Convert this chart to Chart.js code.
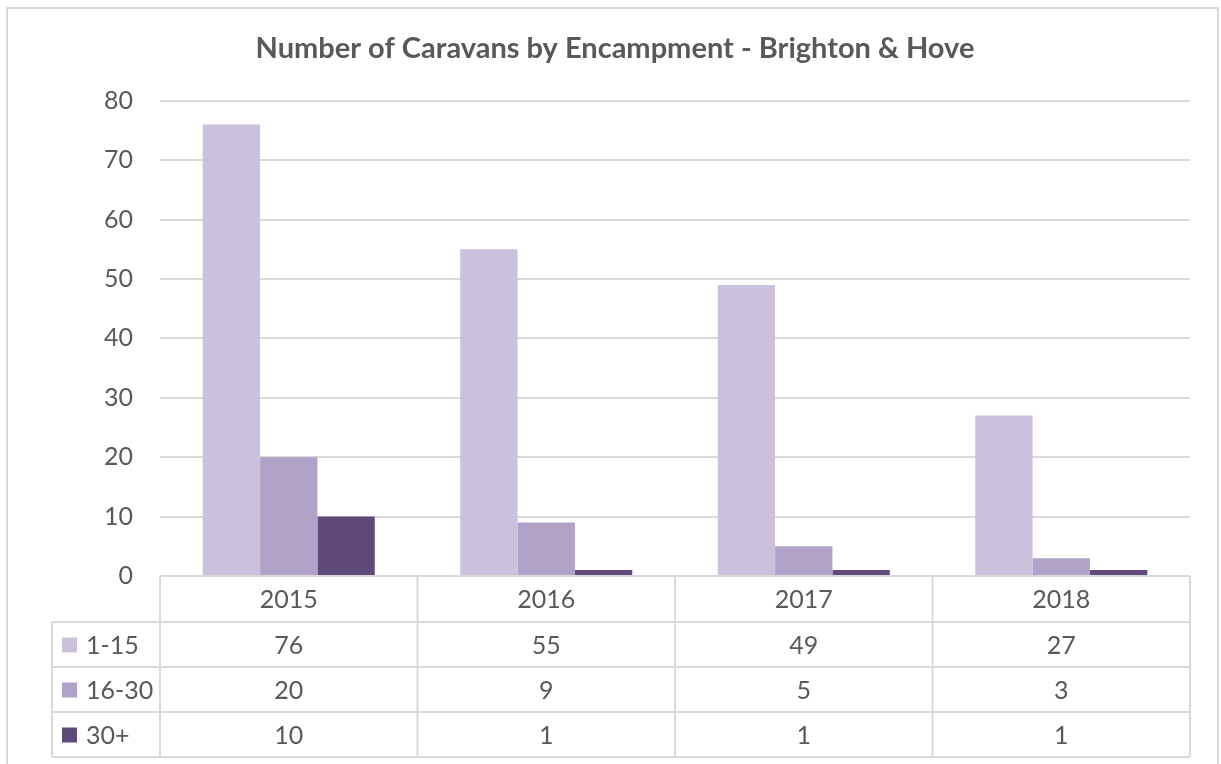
<!DOCTYPE html>
<html>
<head>
<meta charset="utf-8">
<script src="https://cdn.jsdelivr.net/npm/chart.js@4"></script>
<style>
  html, body { margin: 0; padding: 0; background: #fff; }
  #wrap { width: 1221px; height: 764px; }
</style>
</head>
<body>
<div id="wrap"><canvas id="chart" width="1221" height="764"></canvas></div>
<script>
// data
const years = ['2015', '2016', '2017', '2018'];
const seriesNames = ['1-15', '16-30', '30+'];
const caravans1to15 = [76, 55, 49, 27];
const caravans16to30 = [20, 9, 5, 3];
const caravans30plus = [10, 1, 1, 1];
const seriesColors = ['#ccc1dc', '#b1a2c8', '#604a7b'];

const textColor = '#595959';
const lineColor = '#d9d9d9';
const fontFamily = 'Lato, "Open Sans", sans-serif';

// border round the whole chart + data table under the plot
const tablePlugin = {
  id: 'dataTable',
  beforeDraw(chart) {
    const ctx = chart.ctx;
    ctx.save();
    ctx.strokeStyle = lineColor;
    ctx.lineWidth = 2;
    ctx.strokeRect(7, 8, 1211, 780);
    ctx.restore();
  },
  afterDraw(chart) {
    const ctx = chart.ctx;
    const area = chart.chartArea;
    const x = chart.scales.x;
    const colW = (area.right - area.left) / years.length;
    const headH = 46, rowH = 45;
    const legendLeft = 52;
    const top = area.bottom;
    const rowsTop = top + headH;
    const bottom = rowsTop + rowH * seriesNames.length;

    ctx.save();
    ctx.strokeStyle = lineColor;
    ctx.lineWidth = 2;
    ctx.beginPath();
    // horizontal lines
    ctx.moveTo(area.left, top); ctx.lineTo(area.right, top);
    for (let r = 0; r <= seriesNames.length; r++) {
      const y = rowsTop + r * rowH;
      ctx.moveTo(legendLeft, y); ctx.lineTo(area.right, y);
    }
    // vertical lines
    ctx.moveTo(legendLeft, rowsTop); ctx.lineTo(legendLeft, bottom);
    for (let c = 0; c <= years.length; c++) {
      const xx = area.left + c * colW;
      ctx.moveTo(xx, top); ctx.lineTo(xx, bottom);
    }
    ctx.stroke();

    ctx.fillStyle = textColor;
    ctx.font = '25px ' + fontFamily;
    ctx.textAlign = 'center';
    ctx.textBaseline = 'middle';
    years.forEach((yr, i) => {
      ctx.fillText(yr, x.getPixelForValue(i), top + headH / 2 + 1);
    });

    chart.data.datasets.forEach((ds, r) => {
      const cy = rowsTop + r * rowH + rowH / 2 + 1;
      ds.data.forEach((v, i) => {
        ctx.textAlign = 'center';
        ctx.fillStyle = textColor;
        ctx.fillText(String(v), x.getPixelForValue(i), cy);
      });
      // legend key
      ctx.fillStyle = ds.backgroundColor;
      ctx.fillRect(62, cy - 8, 15, 15);
      ctx.fillStyle = textColor;
      ctx.textAlign = 'left';
      ctx.fillText(ds.label, 86, cy);
    });
    ctx.restore();
  }
};

const seriesData = [caravans1to15, caravans16to30, caravans30plus];

new Chart(document.getElementById('chart'), {
  type: 'bar',
  data: {
    labels: years,
    datasets: seriesNames.map((name, i) => ({
      label: name,
      data: seriesData[i],
      backgroundColor: seriesColors[i],
      borderWidth: 0,
      categoryPercentage: 0.668,
      barPercentage: 1
    }))
  },
  options: {
    responsive: false,
    animation: false,
    devicePixelRatio: 1,
    layout: { padding: { top: 0, left: 40, right: 31, bottom: 188 } },
    scales: {
      x: { display: false },
      y: {
        min: 0,
        max: 80,
        ticks: { stepSize: 10, color: textColor, font: { family: fontFamily, size: 25 }, padding: 27 },
        grid: { color: lineColor, lineWidth: 2, drawTicks: false },
        border: { display: false },
        afterFit(scale) { scale.width = 120; }
      }
    },
    plugins: {
      legend: { display: false },
      tooltip: { enabled: false },
      title: {
        display: true,
        text: 'Number of Caravans by Encampment - Brighton & Hove',
        color: textColor,
        font: { family: fontFamily, size: 29, weight: 'bold' },
        padding: { top: 31, bottom: 35 }
      }
    }
  },
  plugins: [tablePlugin]
});
</script>
</body>
</html>
